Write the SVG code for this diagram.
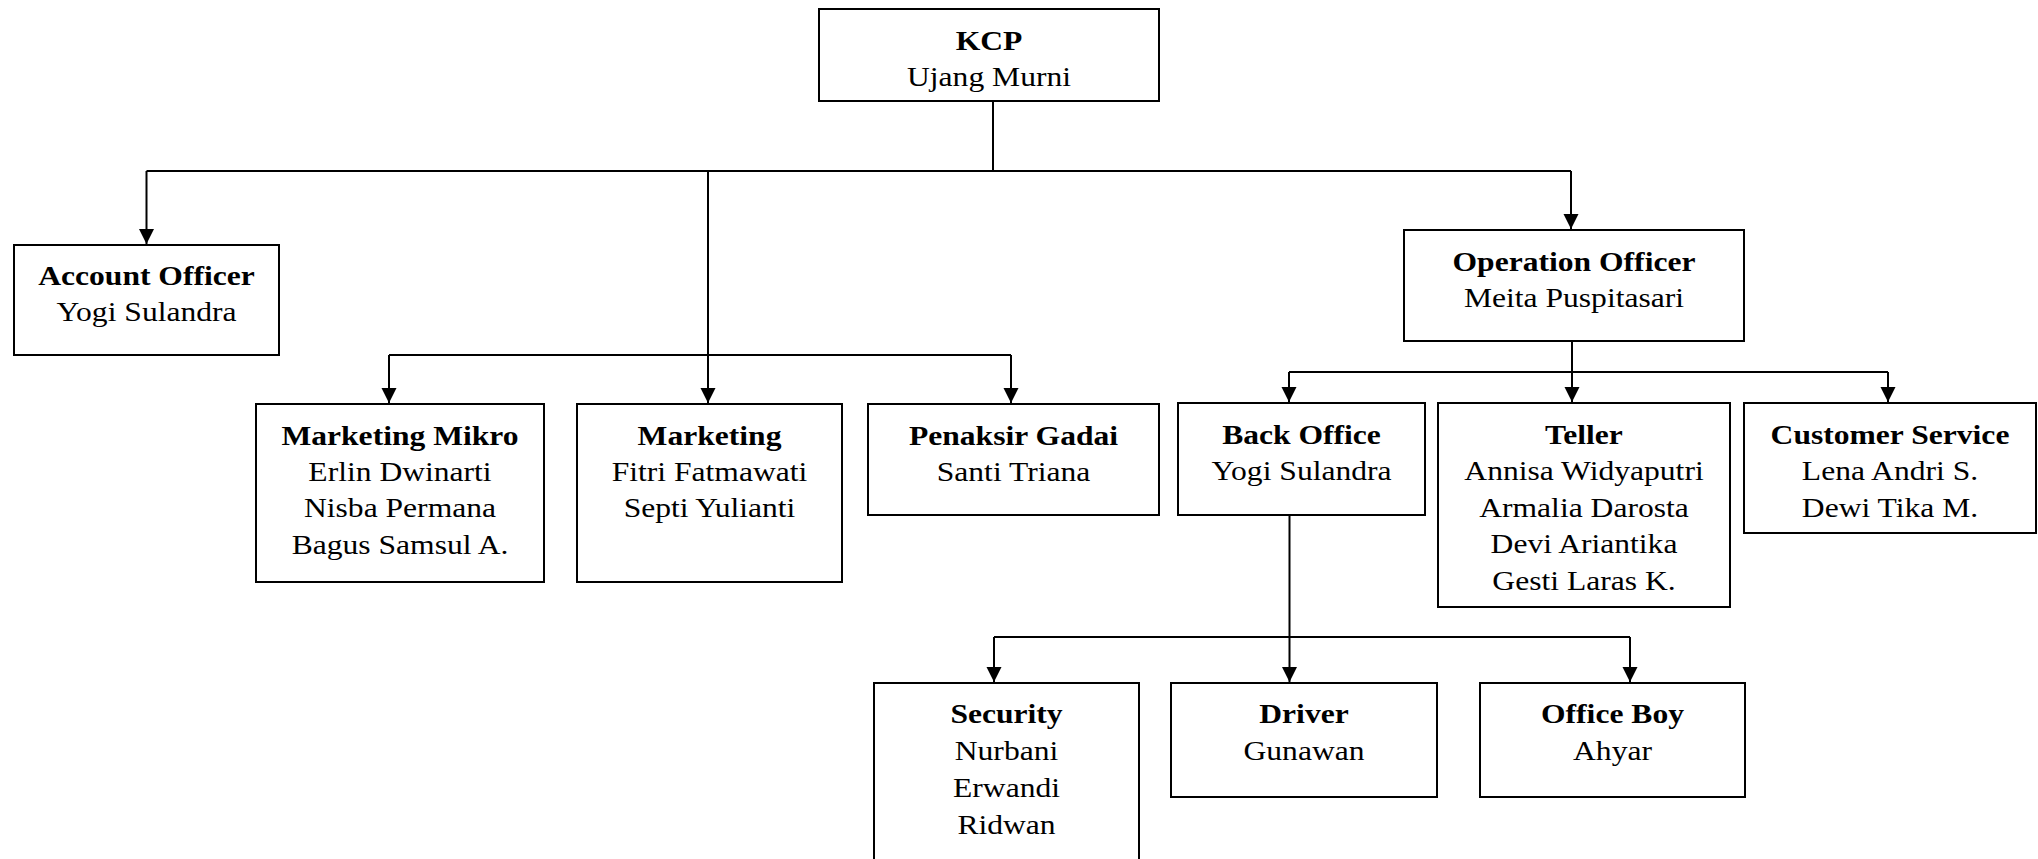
<svg xmlns="http://www.w3.org/2000/svg" width="2038" height="859" viewBox="0 0 2038 859">
<style>
.box{fill:#fff;stroke:#000;stroke-width:2}
.t{font-family:"Liberation Serif","Times New Roman",serif;font-size:27px;fill:#000;text-anchor:middle}
.b{font-weight:bold}
.c{fill:none;stroke:#000;stroke-width:2}
</style>
<defs>
<marker id="ah" markerUnits="userSpaceOnUse" markerWidth="16" markerHeight="16" viewBox="0 0 16 16" refX="15" refY="7.5" orient="auto">
<path d="M0,0 L15,7.5 L0,15 z" fill="#000"/>
</marker>
</defs>
<rect width="2038" height="859" fill="#fff"/>
<g id="connectors">
<path class="c" d="M993 101 V171"/>
<path class="c" d="M146.5 171 H1571"/>
<path class="c" d="M146.5 171 V244" marker-end="url(#ah)"/>
<path class="c" d="M708 171 V403" marker-end="url(#ah)"/>
<path class="c" d="M1571 171 V229" marker-end="url(#ah)"/>
<path class="c" d="M389 355 H1011"/>
<path class="c" d="M389 355 V403" marker-end="url(#ah)"/>
<path class="c" d="M1011 355 V403" marker-end="url(#ah)"/>
<path class="c" d="M1572 341 V402" marker-end="url(#ah)"/>
<path class="c" d="M1289 372 H1888"/>
<path class="c" d="M1289 372 V402" marker-end="url(#ah)"/>
<path class="c" d="M1888 372 V402" marker-end="url(#ah)"/>
<path class="c" d="M1289.5 515 V682" marker-end="url(#ah)"/>
<path class="c" d="M994 637 H1630"/>
<path class="c" d="M994 637 V682" marker-end="url(#ah)"/>
<path class="c" d="M1630 637 V682" marker-end="url(#ah)"/>
</g>
<g id="kcp">
<rect class="box" x="819" y="9" width="340" height="92"/>
<text class="t" transform="matrix(1.17 0 0 1 989 0)"><tspan class="b" x="0" y="50">KCP</tspan><tspan x="0" y="86.5">Ujang Murni</tspan></text>
</g>
<g id="account-officer">
<rect class="box" x="14" y="245" width="265" height="110"/>
<text class="t" transform="matrix(1.17 0 0 1 146.5 0)"><tspan class="b" x="0" y="285">Account Officer</tspan><tspan x="0" y="321.5">Yogi Sulandra</tspan></text>
</g>
<g id="operation-officer">
<rect class="box" x="1404" y="230" width="340" height="111"/>
<text class="t" transform="matrix(1.17 0 0 1 1574 0)"><tspan class="b" x="0" y="271">Operation Officer</tspan><tspan x="0" y="307">Meita Puspitasari</tspan></text>
</g>
<g id="marketing-mikro">
<rect class="box" x="256" y="404" width="288" height="178"/>
<text class="t" transform="matrix(1.17 0 0 1 400 0)"><tspan class="b" x="0" y="445">Marketing Mikro</tspan><tspan x="0" y="481">Erlin Dwinarti</tspan><tspan x="0" y="517.5">Nisba Permana</tspan><tspan x="0" y="554">Bagus Samsul A.</tspan></text>
</g>
<g id="marketing">
<rect class="box" x="577" y="404" width="265" height="178"/>
<text class="t" transform="matrix(1.17 0 0 1 709.5 0)"><tspan class="b" x="0" y="445">Marketing</tspan><tspan x="0" y="481">Fitri Fatmawati</tspan><tspan x="0" y="517.5">Septi Yulianti</tspan></text>
</g>
<g id="penaksir-gadai">
<rect class="box" x="868" y="404" width="291" height="111"/>
<text class="t" transform="matrix(1.17 0 0 1 1013.5 0)"><tspan class="b" x="0" y="445">Penaksir Gadai</tspan><tspan x="0" y="481">Santi Triana</tspan></text>
</g>
<g id="back-office">
<rect class="box" x="1178" y="403" width="247" height="112"/>
<text class="t" transform="matrix(1.17 0 0 1 1301.5 0)"><tspan class="b" x="0" y="444">Back Office</tspan><tspan x="0" y="480.5">Yogi Sulandra</tspan></text>
</g>
<g id="teller">
<rect class="box" x="1438" y="403" width="292" height="204"/>
<text class="t" transform="matrix(1.17 0 0 1 1584 0)"><tspan class="b" x="0" y="444">Teller</tspan><tspan x="0" y="480.5">Annisa Widyaputri</tspan><tspan x="0" y="517">Armalia Darosta</tspan><tspan x="0" y="553.5">Devi Ariantika</tspan><tspan x="0" y="590">Gesti Laras K.</tspan></text>
</g>
<g id="customer-service">
<rect class="box" x="1744" y="403" width="292" height="130"/>
<text class="t" transform="matrix(1.17 0 0 1 1890 0)"><tspan class="b" x="0" y="444">Customer Service</tspan><tspan x="0" y="480.5">Lena Andri S.</tspan><tspan x="0" y="517">Dewi Tika M.</tspan></text>
</g>
<g id="security">
<rect class="box" x="874" y="683" width="265" height="200"/>
<text class="t" transform="matrix(1.17 0 0 1 1006.5 0)"><tspan class="b" x="0" y="723.5">Security</tspan><tspan x="0" y="760">Nurbani</tspan><tspan x="0" y="797">Erwandi</tspan><tspan x="0" y="834">Ridwan</tspan></text>
</g>
<g id="driver">
<rect class="box" x="1171" y="683" width="266" height="114"/>
<text class="t" transform="matrix(1.17 0 0 1 1304 0)"><tspan class="b" x="0" y="723.5">Driver</tspan><tspan x="0" y="760">Gunawan</tspan></text>
</g>
<g id="office-boy">
<rect class="box" x="1480" y="683" width="265" height="114"/>
<text class="t" transform="matrix(1.17 0 0 1 1612.5 0)"><tspan class="b" x="0" y="723.5">Office Boy</tspan><tspan x="0" y="760">Ahyar</tspan></text>
</g>
</svg>
